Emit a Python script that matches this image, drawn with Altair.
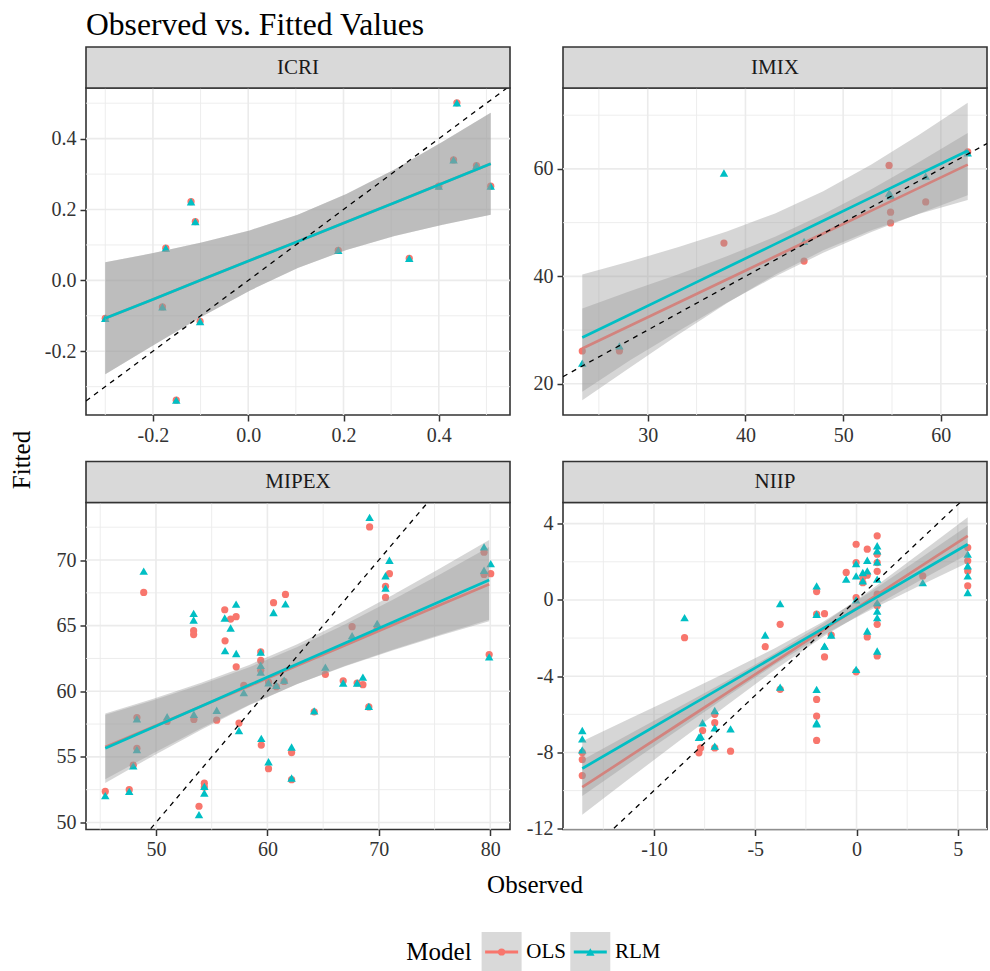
import altair as alt
import pandas as pd

FONT = "Liberation Serif"
TITLE = "Observed vs. Fitted Values"
X_TITLE = "Observed"
Y_TITLE = "Fitted"
LEGEND_TITLE = "Model"
MODELS = ["OLS", "RLM"]
COLORS = ["#F8766D", "#00BFC4"]
SHAPES = ["circle", "triangle-up"]
PANELS = ["ICRI", "IMIX", "MIPEX", "NIIP"]

# ---------------- ICRI ----------------
ICRI_OBS = [-0.300, -0.180, -0.173, -0.151, -0.120, -0.111, -0.101, 0.189, 0.338, 0.400, 0.431, 0.438, 0.479, 0.509]
ICRI_OLS = [-0.107, -0.075, 0.091, -0.338, 0.222, 0.166, -0.116, 0.085, 0.062, 0.266, 0.340, 0.501, 0.324, 0.266]
ICRI_RLM = [-0.107, -0.075, 0.091, -0.338, 0.222, 0.166, -0.116, 0.085, 0.062, 0.266, 0.340, 0.501, 0.324, 0.266]
ICRI_FIT_X = [-0.300, -0.199, -0.098, 0.003, 0.104, 0.206, 0.307, 0.408, 0.509]
ICRI_OLS_FIT = [-0.107, -0.053, 0.002, 0.056, 0.110, 0.165, 0.219, 0.274, 0.329]
ICRI_OLS_LO = [-0.265, -0.183, -0.103, -0.029, 0.035, 0.086, 0.125, 0.157, 0.185]
ICRI_OLS_HI = [0.051, 0.077, 0.107, 0.141, 0.185, 0.244, 0.313, 0.391, 0.473]
ICRI_RLM_FIT = [-0.107, -0.053, 0.002, 0.056, 0.110, 0.165, 0.219, 0.274, 0.329]
ICRI_RLM_LO = [-0.265, -0.183, -0.103, -0.029, 0.035, 0.086, 0.125, 0.157, 0.185]
ICRI_RLM_HI = [0.051, 0.077, 0.107, 0.141, 0.185, 0.244, 0.313, 0.391, 0.473]
ICRI_XTICKS = [-0.2, 0.0, 0.2, 0.4]
ICRI_XMINOR = [-0.3, -0.1, 0.1, 0.3, 0.5]
ICRI_YTICKS = [-0.2, 0.0, 0.2, 0.4]
ICRI_YMINOR = [-0.3, -0.1, 0.1, 0.3, 0.5]

# ---------------- IMIX ----------------
IMIX_OBS = [23.3, 27.1, 37.8, 46.0, 54.7, 54.85, 54.85, 58.45, 62.75]
IMIX_OLS = [26.1, 26.1, 46.2, 42.85, 60.65, 51.95, 49.95, 53.85, 63.2]
IMIX_RLM = [23.85, 27.05, 59.25, 46.5, 55.5, 55.2, 55.0, 58.65, 63.0]
IMIX_FIT_X = [23.3, 28.23, 33.16, 38.09, 43.03, 47.96, 52.89, 57.82, 62.75]
IMIX_OLS_FIT = [26.56, 30.84, 35.12, 39.40, 43.68, 47.96, 52.24, 56.52, 60.80]
IMIX_OLS_LO = [18.5, 24.42, 29.83, 35.06, 39.97, 44.38, 48.26, 51.72, 55.1]
IMIX_OLS_HI = [34.0, 37.26, 40.41, 43.74, 47.39, 51.54, 56.22, 61.32, 66.7]
IMIX_RLM_FIT = [28.6, 32.95, 37.30, 41.65, 46.0, 50.35, 54.70, 59.05, 63.4]
IMIX_RLM_LO = [16.95, 23.08, 29.16, 34.97, 40.29, 44.84, 48.57, 51.67, 54.2]
IMIX_RLM_HI = [40.36, 42.82, 45.44, 48.33, 51.71, 55.86, 60.83, 66.43, 72.3]
IMIX_XTICKS = [30, 40, 50, 60]
IMIX_XMINOR = [25, 35, 45, 55]
IMIX_YTICKS = [20, 40, 60]
IMIX_YMINOR = [30, 50, 70]

# ---------------- MIPEX ----------------
MIPEX_OBS = [45.45, 47.6, 47.96, 48.29, 48.29, 48.9, 51.0, 53.38, 53.38, 53.4,
             53.86, 54.34, 54.34, 55.45, 56.17, 56.2, 56.7, 57.19, 57.2, 57.45,
             57.88, 59.4, 59.4, 59.4, 59.45, 60.1, 60.1, 60.55, 60.8, 61.62,
             61.5, 62.17, 62.17, 64.2, 65.2, 66.8, 67.6, 68.05, 68.57, 69.17,
             69.1, 69.85, 70.95, 70.6, 70.6, 79.44, 80.04, 79.44, 79.9]
MIPEX_OLS = [52.37, 52.5, 54.37, 55.65, 58.0, 67.53, 57.7, 64.62, 64.32, 57.85,
             51.24, 53.0, 52.7, 57.8, 66.21, 63.84, 65.5, 65.68, 61.86, 57.58,
             60.45, 63.0, 62.35, 61.6, 55.9, 54.1, 60.7, 66.75, 60.35, 67.38,
             60.75, 55.33, 53.26, 58.43, 61.29, 60.8, 64.92, 60.63, 60.5, 72.52,
             58.81, 64.8, 68.96, 68.0, 67.15, 70.6, 68.96, 68.9, 62.8]
MIPEX_RLM = [52.05, 52.37, 54.32, 55.55, 57.9, 69.15, 58.06, 65.93, 65.43, 58.25,
             50.6, 52.75, 52.25, 58.55, 65.58, 63.1, 64.82, 66.64, 62.88, 57.0,
             59.9, 62.98, 61.97, 61.46, 56.41, 54.63, 60.65, 66.0, 60.45, 66.66,
             60.85, 55.75, 53.39, 58.51, 61.84, 60.63, 64.24, 60.63, 61.08, 73.25,
             58.85, 65.17, 69.98, 68.8, 67.86, 71.0, 69.72, 69.22, 62.62]
MIPEX_FIT_X = [45.45, 49.76, 54.06, 58.37, 62.68, 66.98, 71.29, 75.59, 79.9]
MIPEX_OLS_FIT = [55.75, 57.30, 58.85, 60.40, 61.96, 63.51, 65.06, 66.61, 68.16]
MIPEX_OLS_LO = [53.29, 55.28, 57.19, 58.97, 60.55, 61.91, 63.13, 64.26, 65.33]
MIPEX_OLS_HI = [58.21, 59.32, 60.51, 61.83, 63.37, 65.11, 66.99, 68.96, 70.99]
MIPEX_RLM_FIT = [55.66, 57.26, 58.86, 60.47, 62.07, 63.67, 65.27, 66.88, 68.48]
MIPEX_RLM_LO = [53.02, 55.09, 57.07, 58.93, 60.55, 61.95, 63.19, 64.35, 65.44]
MIPEX_RLM_HI = [58.30, 59.43, 60.65, 62.01, 63.59, 65.39, 67.35, 69.41, 71.52]
MIPEX_XTICKS = [50, 60, 70, 80]
MIPEX_XMINOR = [45, 55, 65, 75]
MIPEX_YTICKS = [50, 55, 60, 65, 70]
MIPEX_YMINOR = [52.5, 57.5, 62.5, 67.5, 72.5]

# ---------------- NIIP ----------------
NIIP_OBS = [-13.54, -13.54, -13.54, -8.49, -7.6, -7.7, -7.78, -7.0, -7.0, -7.0,
            -6.22, -4.51, -3.77, -3.77, -1.97, -1.97, -1.97, -1.97, -1.97, -1.58,
            -1.58, -1.25, -0.51, -0.02, -0.02, -0.02, -0.02, 0.31, 0.31, 0.53,
            0.53, 0.53, 1.02, 1.02, 1.02, 1.02, 1.02, 1.02, 1.02, 1.02,
            3.27, 5.49, 5.49, 5.49, 5.49]
NIIP_OLS = [-8.0, -8.37, -9.21, -1.98, -6.85, -7.76, -8.02, -6.0, -6.44, -7.76,
            -7.93, -2.45, -1.28, -4.69, 0.44, -0.75, -5.22, -6.09, -7.37, -0.72,
            -2.99, -1.84, 1.44, 2.92, 1.96, 0.12, -3.77, 1.2, 0.9, 2.66,
            1.3, -1.94, 3.36, 2.4, 1.96, 1.5, 0.3, -0.3, -1.28, -2.94,
            1.26, 2.75, 2.05, 1.52, 0.74]
NIIP_RLM = [-7.86, -7.29, -6.85, -0.93, -6.44, -7.15, -7.2, -5.8, -6.71, -7.67,
            -6.76, -1.84, -0.19, -4.57, 0.74, -0.75, -4.69, -6.44, -6.5, -2.42,
            -2.42, -1.84, 1.09, 1.9, 1.26, 0.0, -3.64, 1.44, 1.0, 2.08,
            1.52, -1.63, 2.84, 2.58, 2.0, 1.09, -0.14, -0.58, -0.93, -2.68,
            0.91, 2.4, 1.79, 1.26, 0.39]
NIIP_FIT_X = [-13.54, -11.16, -8.78, -6.40, -4.03, -1.65, 0.73, 3.11, 5.49]
NIIP_OLS_FIT = [-9.82, -8.17, -6.52, -4.88, -3.23, -1.58, 0.07, 1.72, 3.36]
NIIP_OLS_LO = [-11.26, -9.33, -7.41, -5.52, -3.66, -1.93, -0.41, 1.01, 2.39]
NIIP_OLS_HI = [-8.39, -7.01, -5.63, -4.24, -2.80, -1.23, 0.55, 2.43, 4.33]
NIIP_RLM_FIT = [-8.84, -7.37, -5.90, -4.43, -2.96, -1.49, -0.02, 1.45, 2.92]
NIIP_RLM_LO = [-10.28, -8.53, -6.79, -5.07, -3.39, -1.84, -0.50, 0.74, 1.95]
NIIP_RLM_HI = [-7.41, -6.21, -5.01, -3.79, -2.53, -1.14, 0.46, 2.16, 3.89]
NIIP_XTICKS = [-10, -5, 0, 5]
NIIP_XMINOR = [-12.5, -7.5, -2.5, 2.5]
NIIP_YTICKS = [-12, -8, -4, 0, 4]
NIIP_YMINOR = [-10, -6, -2, 2]

W, H = 424, 327
STRIP_H = 41
INK = "#333333"
LABEL_EXPR = "replace(datum.label, '\u2212', '-')"
SIZES = [52, 72]


def make_panel(name, obs, ols, rlm, fx, ofit, olo, ohi, rfit, rlo, rhi,
               xt, xm, yt, ym, fmt):
    x0, x1 = min(obs), max(obs)
    allv = ols + rlm + olo + ohi + rlo + rhi
    y0, y1 = min(allv), max(allv)
    ex, ey = (x1 - x0) * 0.05, (y1 - y0) * 0.05
    xd = [x0 - ex, x1 + ex]
    yd = [y0 - ey, y1 + ey]
    xs = alt.Scale(domain=xd, nice=False, zero=False)
    ys = alt.Scale(domain=yd, nice=False, zero=False)

    common = dict(format=fmt, labelExpr=LABEL_EXPR, title=None, grid=False,
                  labelFlush=False, labelOverlap=False, labelBound=False)
    xa = alt.Axis(values=xt, **common)
    ya = alt.Axis(values=yt, **common)

    def X(f):
        return alt.X(f, scale=xs, axis=xa)

    def Y(f):
        return alt.Y(f, scale=ys, axis=ya)

    layers = [
        alt.Chart(pd.DataFrame({"v": xm})).mark_rule(color="#EBEBEB", strokeWidth=0.9).encode(x=X("v:Q")),
        alt.Chart(pd.DataFrame({"v": ym})).mark_rule(color="#EBEBEB", strokeWidth=0.9).encode(y=Y("v:Q")),
        alt.Chart(pd.DataFrame({"v": xt})).mark_rule(color="#EBEBEB", strokeWidth=1.6).encode(x=X("v:Q")),
        alt.Chart(pd.DataFrame({"v": yt})).mark_rule(color="#EBEBEB", strokeWidth=1.6).encode(y=Y("v:Q")),
    ]
    for vals, col, shp, size in [(ols, COLORS[0], SHAPES[0], SIZES[0]),
                                 (rlm, COLORS[1], SHAPES[1], SIZES[1])]:
        df = pd.DataFrame({"x": obs, "y": vals})
        layers.append(alt.Chart(df).mark_point(filled=True, opacity=1, color=col, shape=shp,
                                               size=size, strokeWidth=0).encode(x=X("x:Q"), y=Y("y:Q")))
    for fit, lo, hi, col in [(ofit, olo, ohi, COLORS[0]), (rfit, rlo, rhi, COLORS[1])]:
        df = pd.DataFrame({"x": fx, "fit": fit, "lo": lo, "hi": hi})
        layers.append(alt.Chart(df).mark_area(color="#999999", opacity=0.4).encode(
            x=X("x:Q"), y=Y("lo:Q"), y2="hi:Q"))
        layers.append(alt.Chart(df).mark_line(color=col, strokeWidth=2.7).encode(
            x=X("x:Q"), y=Y("fit:Q")))
    ab = pd.DataFrame({"x": xd, "y": xd})
    layers.append(alt.Chart(ab).mark_line(color="black", strokeDash=[5, 5], strokeWidth=1.3,
                                          clip=True).encode(x=X("x:Q"), y=Y("y:Q")))
    sdf = pd.DataFrame({"panel": [name]})
    layers.append(alt.Chart(sdf).mark_rect(fill="#D9D9D9", stroke=INK, strokeWidth=1.6).encode(
        x=alt.value(0), x2=alt.value(W), y=alt.value(-STRIP_H), y2=alt.value(0)))
    layers.append(alt.Chart(sdf).mark_text(font=FONT, fontSize=21, color="#1A1A1A",
                                           baseline="middle", align="center").encode(
        x=alt.value(W / 2), y=alt.value(-STRIP_H / 2), text="panel:N"))
    return alt.layer(*layers).properties(width=W, height=H,
                                         view=alt.ViewBackground(stroke=INK, strokeWidth=1.6))


p1 = make_panel(PANELS[0], ICRI_OBS, ICRI_OLS, ICRI_RLM, ICRI_FIT_X, ICRI_OLS_FIT, ICRI_OLS_LO,
                ICRI_OLS_HI, ICRI_RLM_FIT, ICRI_RLM_LO, ICRI_RLM_HI,
                ICRI_XTICKS, ICRI_XMINOR, ICRI_YTICKS, ICRI_YMINOR, ".1f")
p2 = make_panel(PANELS[1], IMIX_OBS, IMIX_OLS, IMIX_RLM, IMIX_FIT_X, IMIX_OLS_FIT, IMIX_OLS_LO,
                IMIX_OLS_HI, IMIX_RLM_FIT, IMIX_RLM_LO, IMIX_RLM_HI,
                IMIX_XTICKS, IMIX_XMINOR, IMIX_YTICKS, IMIX_YMINOR, "d")
p3 = make_panel(PANELS[2], MIPEX_OBS, MIPEX_OLS, MIPEX_RLM, MIPEX_FIT_X, MIPEX_OLS_FIT, MIPEX_OLS_LO,
                MIPEX_OLS_HI, MIPEX_RLM_FIT, MIPEX_RLM_LO, MIPEX_RLM_HI,
                MIPEX_XTICKS, MIPEX_XMINOR, MIPEX_YTICKS, MIPEX_YMINOR, "d")
p4 = make_panel(PANELS[3], NIIP_OBS, NIIP_OLS, NIIP_RLM, NIIP_FIT_X, NIIP_OLS_FIT, NIIP_OLS_LO,
                NIIP_OLS_HI, NIIP_RLM_FIT, NIIP_RLM_LO, NIIP_RLM_HI,
                NIIP_XTICKS, NIIP_XMINOR, NIIP_YTICKS, NIIP_YMINOR, "d")

grid = alt.concat(p1, p2, p3, p4, columns=2, spacing={"row": 13.5, "column": 13})

# legend + x-axis title row
LEG_W, LEG_H = 898, 112
KEY_LEFT = [395.6, 484.3]
legend_layers = []
legend_layers.append(alt.Chart(pd.DataFrame({"t": [X_TITLE]})).mark_text(
    font=FONT, fontSize=25, color="black", baseline="middle", align="center").encode(
    x=alt.value(449), y=alt.value(24), text="t:N"))
legend_layers.append(alt.Chart(pd.DataFrame({"t": [LEGEND_TITLE]})).mark_text(
    font=FONT, fontSize=25, color="black", baseline="middle", align="left").encode(
    x=alt.value(320.3), y=alt.value(91), text="t:N"))
for i, m in enumerate(MODELS):
    kx = KEY_LEFT[i]
    mdf = pd.DataFrame({"model": [m]})
    legend_layers.append(alt.Chart(mdf).mark_rect(fill="#D9D9D9").encode(
        x=alt.value(kx), x2=alt.value(kx + 40), y=alt.value(71), y2=alt.value(111)))
    legend_layers.append(alt.Chart(mdf).mark_rule(color=COLORS[i], strokeWidth=2.8).encode(
        x=alt.value(kx + 3.5), x2=alt.value(kx + 36.5), y=alt.value(91)))
    legend_layers.append(alt.Chart(mdf).mark_point(filled=True, opacity=1, color=COLORS[i],
                                                   shape=SHAPES[i], size=SIZES[i],
                                                   strokeWidth=0).encode(
        x=alt.value(kx + 20), y=alt.value(91)))
    legend_layers.append(alt.Chart(mdf).mark_text(font=FONT, fontSize=21, color="black",
                                                  baseline="middle", align="left").encode(
        x=alt.value(kx + 44.7), y=alt.value(91), text="model:N"))
legend = alt.layer(*legend_layers).properties(width=LEG_W, height=LEG_H,
                                              view=alt.ViewBackground(strokeOpacity=0))

right = alt.vconcat(grid, legend, spacing=0,
                    title=alt.Title(TITLE, anchor="start", frame="group", fontSize=31.6, font=FONT,
                                    fontWeight="normal", color="black", offset=4))

fitted = alt.Chart(pd.DataFrame({"t": [Y_TITLE]})).mark_text(
    font=FONT, fontSize=25, color="black", angle=270, baseline="middle", align="center").encode(
    x=alt.value(17), y=alt.value(372), text="t:N").properties(
    width=34, height=741, view=alt.ViewBackground(strokeOpacity=0))

chart = alt.hconcat(fitted, right, spacing=4).properties(
    padding={"left": 5, "top": 9, "right": 0, "bottom": 0}
).configure_axis(
    labelFont=FONT, labelFontSize=20, labelColor=INK, tickColor=INK, tickSize=6,
    tickWidth=1.5, labelPadding=4, domain=False
)

chart.save("out.html", embed_options={"renderer": "svg", "actions": False})
